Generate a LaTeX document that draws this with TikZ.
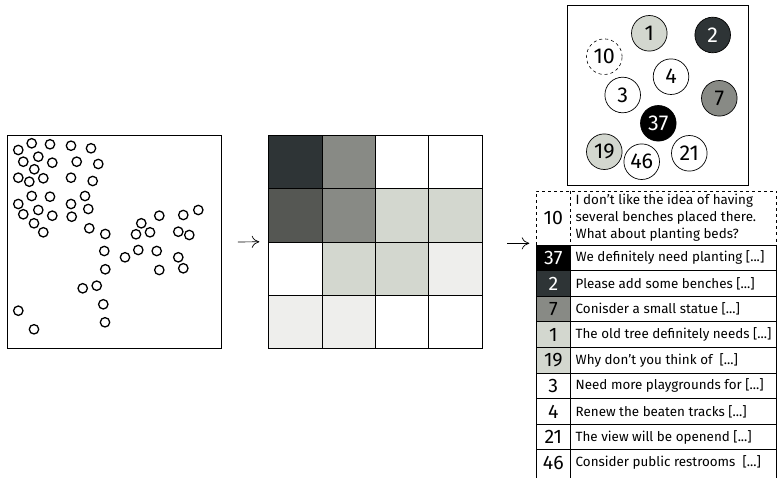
\documentclass[tikz,border=0pt]{standalone}
\usepackage{fontspec}
\setmainfont{Fira Sans}
\usetikzlibrary{calc,arrows.meta}
\definecolor{cA}{HTML}{2E3436}
\definecolor{cB}{HTML}{555753}
\definecolor{cC}{HTML}{888A85}
\definecolor{cD}{HTML}{D3D7CF}
\definecolor{cE}{HTML}{EEEEEC}
\begin{document}
\begin{tikzpicture}[x=1pt,y=-1pt,
  dot/.style={draw,line width=1.3pt},
  cell/.style={draw,line width=0.9pt,minimum size=53.3pt,inner sep=0pt,anchor=north west},
  mc/.style={circle,draw,line width=0.7pt,minimum size=35.6pt,inner sep=0pt,font=\fontsize{21.5}{21.5}\selectfont},
  num/.style={minimum width=34.7pt,minimum height=25.6pt,inner sep=0pt,font=\fontsize{19.5}{19.5}\selectfont},
  txt/.style={anchor=west,inner sep=0pt,font=\fontsize{13.4}{16}\selectfont},
  arr/.style={-{Computer Modern Rightarrow[length=7.5pt,width=12pt]},line width=0.7pt}]
\useasboundingbox (0,0) rectangle (778,478);
% scatter panel
\node[draw,line width=0.9pt,minimum width=214pt,minimum height=213pt,inner sep=0pt,anchor=north west] (scatter) at (7,135) {};
\foreach \px/\py in {18.3/150,31.7/143.3,50/144.3,71/145.7,91/148.3,23.3/161.7,38.3/156.7,52.3/162.7,76.7/161.7,98.3/164,
  34.3/169.3,18.3/177.7,29.3/181.7,43.3/178.3,71/177.7,92.7/181,31.7/196,50/196.7,85/196,18.3/204,
  38.3/210,71/204,88.3/209,23.3/214.3,52.3/215.7,71.7/216.7,34/223.3,43.3/232.3,89.3/228.3,105.3/234,
  141.3/223.3,159.3/215.7,183.3/215,198.3/210,136/234.3,150/232.3,178.3/231.7,189.3/235,104.3/251,138.3/250,
  156.7/251,125/257.3,178.3/257.3,105.3/269.3,159.3/270,183.3/268.3,82.7/288.3,96.7/285.7,103.3/304.3,18.3/310.7,
  105/322.3,34/329.3}
  \draw[dot] (\px,\py) circle[radius=4.7pt];
% grid panel
\coordinate (g0) at (268.3,135);
\foreach \r/\row in {0/{cA,cC,white,white},1/{cB,cC,cD,cD},2/{white,cD,cD,cE},3/{cE,cE,white,white}}{
  \foreach \col [count=\c from 0] in \row {
    \node[cell,fill=\col] (g-\r-\c) at ($(g0)+(\c*53.3,\r*53.3)$) {};
  }
}
\node[minimum width=213.2pt,minimum height=213.2pt,inner sep=0pt,anchor=north west] (grid) at (268.3,135) {};
% arrows
\draw[arr] ([xshift=16pt]scatter.east) -- ([xshift=-9pt]grid.west);
\coordinate (tin) at (529.3,243.3);
\draw[arr] ([xshift=25.5pt]grid.east |- tin) -- (tin);
% map panel
\node[draw,line width=0.9pt,minimum width=181pt,minimum height=180pt,inner sep=0pt,anchor=north west] (map) at (567,5) {};
\node[mc,fill=cD] (m1) at (649.3,33.3) {1};
\node[mc,fill=cA,text=white] (m2) at (712.7,35) {2};
\node[mc,dashed,line width=0.6pt] (m10) at (604.3,56.7) {10};
\node[mc,fill=white] (m4) at (671,76.7) {4};
\node[mc,fill=white] (m3) at (622.7,95) {3};
\node[mc,fill=cC] (m7) at (719.3,98.3) {7};
\node[mc,fill=black,text=white] (m37) at (658.3,123.3) {37};
\node[mc,fill=cD] (m19) at (604.3,151.7) {19};
\node[mc,fill=white] (m46) at (641.7,161.7) {46};
\node[mc,fill=white] (m21) at (689.3,153.3) {21};
% table
\draw[dashed,line width=0.6pt] (536,245) -- (536,191) -- (776.5,191) -- (776.5,245);
\draw[dashed,line width=0.6pt] (570.7,191) -- (570.7,245);
\node[num] (t10) at (553.35,218) {10};
\node[txt,align=left,font=\fontsize{13.4}{17.2}\selectfont] (x10) at (575.5,217.5) {I don't like the idea of having\\several benches placed there.\\What about planting beds?};
\foreach \i/\n/\f/\tc/\t in {0/37/black/white/{We definitely need planting [...]},
  1/2/cA/white/{Please add some benches [...]},
  2/7/cC/black/{Conisder a small statue [...]},
  3/1/cD/black/{The old tree definitely needs [...]},
  4/19/cD/black/{Why don't you think of\ \ [...]},
  5/3/white/black/{Need more playgrounds for [...]},
  6/4/white/black/{Renew the beaten tracks [...]},
  7/21/white/black/{The view will be openend [...]},
  8/46/white/black/{Consider public restrooms\ \ [...]}}{
  \node[num,fill=\f,text=\tc] (t\n) at (553.35,257.8+\i*25.6) {\n};
  \node[txt] (x\n) at (575.5,257.8+\i*25.6) {\t};
  \draw[line width=0.9pt] (536,245+\i*25.6) -- (776.5,245+\i*25.6);
}
\draw[line width=0.9pt] (536,245) -- (536,478);
\draw[line width=0.9pt] (570.7,245) -- (570.7,478);
\draw[line width=0.9pt] (776.5,245) -- (776.5,478);
\end{tikzpicture}
\end{document}
